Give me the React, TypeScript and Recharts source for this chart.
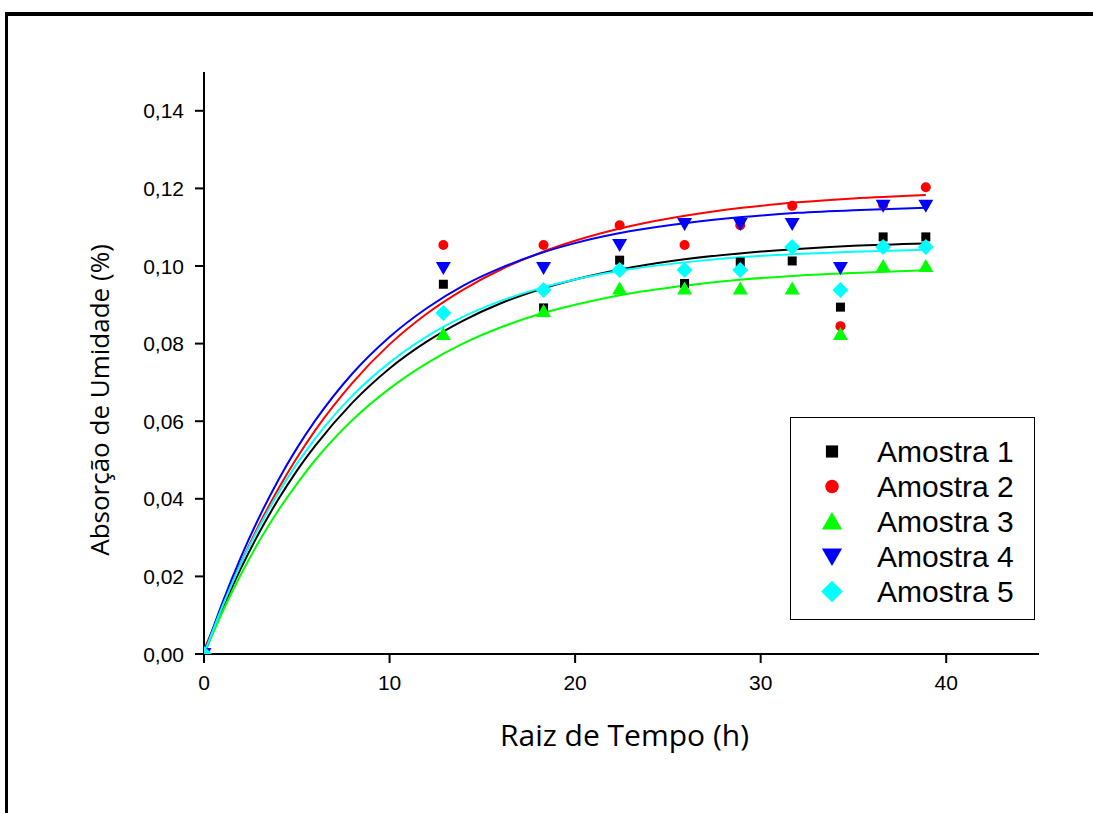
import React from 'react';
import { ComposedChart, Line, Scatter, XAxis, YAxis, Legend } from 'recharts';

// ---- data ----
const timeX = [0, 12.9, 18.3, 22.4, 25.9, 28.9, 31.7, 34.3, 36.6, 38.9];
const amostra1 = [0, 0.0953, 0.0892, 0.1015, 0.0955, 0.101, 0.1013, 0.0894, 0.1075, 0.1075];
const amostra2 = [0, 0.1054, 0.1054, 0.1105, 0.1054, 0.1105, 0.1155, 0.0845, 0.1157, 0.1203];
const amostra3 = [0, 0.0825, 0.0884, 0.0942, 0.0942, 0.0942, 0.0942, 0.0825, 0.1, 0.1];
const amostra4 = [0, 0.0995, 0.0995, 0.1054, 0.1108, 0.1108, 0.1108, 0.0995, 0.1155, 0.1155];
const amostra5 = [0, 0.0879, 0.0938, 0.099, 0.099, 0.099, 0.1049, 0.0938, 0.1049, 0.1049];

// fitted curves
const fitX = [0, 1, 2, 3, 4, 5, 6, 8, 10, 12, 14, 16, 18, 20, 23, 26, 29, 32, 35, 38.9];
const fit1 = [0, 0.0117, 0.0222, 0.0315, 0.0398, 0.0472, 0.0537, 0.0648, 0.0736, 0.0805, 0.086, 0.0904, 0.0938, 0.0965, 0.0996, 0.1018, 0.1033, 0.1044, 0.1052, 0.1058];
const fit2 = [0.001, 0.0124, 0.0236, 0.0336, 0.0425, 0.0505, 0.0577, 0.0699, 0.0798, 0.0877, 0.094, 0.0991, 0.1032, 0.1065, 0.1103, 0.113, 0.115, 0.1164, 0.1174, 0.1183];
const fit3 = [0, 0.0109, 0.0206, 0.0293, 0.037, 0.0438, 0.05, 0.0603, 0.0684, 0.0749, 0.0801, 0.0842, 0.0875, 0.09, 0.093, 0.095, 0.0965, 0.0975, 0.0982, 0.0989];
const fit4 = [0, 0.0133, 0.0251, 0.0355, 0.0448, 0.053, 0.0602, 0.0723, 0.0817, 0.0891, 0.095, 0.0995, 0.1031, 0.1059, 0.109, 0.1111, 0.1126, 0.1137, 0.1144, 0.115];
const fit5 = [0, 0.0124, 0.0234, 0.033, 0.0415, 0.049, 0.0556, 0.0666, 0.0751, 0.0818, 0.087, 0.091, 0.0941, 0.0965, 0.0992, 0.101, 0.1023, 0.1031, 0.1037, 0.1042];

const xMajorTicks = [0, 10, 20, 30, 40];
const xMinorTicks = [5, 15, 25, 35, 45];
const yMajorTicks = [0, 0.02, 0.04, 0.06, 0.08, 0.1, 0.12, 0.14];
const yMinorTicks = [0.01, 0.03, 0.05, 0.07, 0.09, 0.11, 0.13, 0.15];

const seriesNames = ['Amostra 1', 'Amostra 2', 'Amostra 3', 'Amostra 4', 'Amostra 5'];
const seriesColors = ['#000000', '#ff0000', '#00ff00', '#0000ff', '#00ffff'];
const seriesShapes = ['square', 'circle', 'triangleUp', 'triangleDown', 'diamond'];
const seriesValues = [amostra1, amostra2, amostra3, amostra4, amostra5];
const fitValues = [fit1, fit2, fit3, fit4, fit5];

const fitTable = fitX.map((x, i) => {
  const row: any = { x };
  fitValues.forEach((f, k) => { row['fit' + (k + 1)] = f[i]; });
  return row;
});

const scatterData = seriesValues.map((vals) => timeX.map((x, i) => ({ x, y: vals[i] })));

function markerEl(kind: string, cx: number, cy: number, color: string, s: number) {
  switch (kind) {
    case 'square':
      return <rect x={cx - 4.5 * s} y={cy - 4.5 * s} width={9 * s} height={9 * s} fill={color} />;
    case 'circle':
      return <circle cx={cx} cy={cy} r={5 * s} fill={color} />;
    case 'triangleUp':
      return <polygon points={`${cx},${cy - 7 * s} ${cx + 7.5 * s},${cy + 6 * s} ${cx - 7.5 * s},${cy + 6 * s}`} fill={color} />;
    case 'triangleDown':
      return <polygon points={`${cx},${cy + 7 * s} ${cx + 7.5 * s},${cy - 6 * s} ${cx - 7.5 * s},${cy - 6 * s}`} fill={color} />;
    default:
      return <polygon points={`${cx},${cy - 8 * s} ${cx + 8 * s},${cy} ${cx},${cy + 8 * s} ${cx - 8 * s},${cy}`} fill={color} />;
  }
}

const fmtY = (v: number) => v.toFixed(2).replace('.', ',');

const tickFamily = 'Liberation Sans, Arial, sans-serif';
const tickSizePx = 21;
const titleFont = 'Open Sans, DejaVu Sans, sans-serif';

const XTick = (p: any) => (
  <text x={p.x} y={p.y} dy="0.72em" textAnchor="middle" fontFamily={tickFamily} fontSize={tickSizePx} fill="#000">
    {p.payload.value}
  </text>
);

const YTick = (p: any) => (
  <text x={p.x} y={p.y} dy="0.36em" textAnchor="end" fontFamily={tickFamily} fontSize={tickSizePx} fill="#000">
    {fmtY(p.payload.value)}
  </text>
);

function LegendBox() {
  return (
    <div
      style={{
        width: 245,
        height: 203,
        border: '1.5px solid #000',
        background: '#fff',
        boxSizing: 'border-box',
        paddingTop: 16,
      }}
    >
      {seriesNames.map((n, i) => (
        <div key={n} style={{ display: 'flex', alignItems: 'center', height: 35 }}>
          <svg width={86} height={35} style={{ display: 'block' }}>
            {markerEl(seriesShapes[i], 41, 17.5, seriesColors[i], 1.35)}
          </svg>
          <span style={{ fontFamily: 'Liberation Sans, Arial, sans-serif', fontSize: 30, color: '#000', lineHeight: '35px' }}>{n}</span>
        </div>
      ))}
    </div>
  );
}

export default function App() {
  return (
    <div style={{ position: 'absolute', left: 0, top: 0, width: 1093, height: 813, background: '#fff', overflow: 'hidden' }}>
      <div
        style={{
          position: 'absolute',
          left: 5,
          top: 12,
          width: 1100,
          height: 820,
          borderTop: '4px solid #000',
          borderLeft: '3px solid #000',
        }}
      />
      <div style={{ position: 'absolute', left: 0, top: 0 }}>
        <ComposedChart width={1093} height={813} data={fitTable} margin={{ top: 72, right: 54, bottom: 99, left: 104 }}>
          <XAxis
            xAxisId="minor"
            type="number"
            dataKey="x"
            domain={[0, 45]}
            ticks={xMinorTicks}
            tick={false}
            axisLine={false}
            tickSize={5}
            tickLine={{ stroke: '#000', strokeWidth: 2 }}
            height={0}
            allowDataOverflow
          />
          <XAxis
            type="number"
            dataKey="x"
            domain={[0, 45]}
            ticks={xMajorTicks}
            tick={XTick}
            tickSize={9}
            tickMargin={12}
            axisLine={{ stroke: '#000', strokeWidth: 2 }}
            tickLine={{ stroke: '#000', strokeWidth: 2 }}
            height={60}
            allowDataOverflow
            label={{
              content: (p: any) => (
                <text
                  x={p.viewBox.x + p.viewBox.width / 2 + 3}
                  y={p.viewBox.y + 80}
                  textAnchor="middle"
                  dominantBaseline="central"
                  fontFamily={titleFont}
                  fontSize={30}
                  fill="#000"
                >
                  Raiz de Tempo (h)
                </text>
              ),
            }}
          />
          <YAxis
            yAxisId="minor"
            type="number"
            domain={[0, 0.15]}
            ticks={yMinorTicks}
            tick={false}
            axisLine={false}
            tickSize={5}
            tickLine={{ stroke: '#000', strokeWidth: 2 }}
            width={0}
            allowDataOverflow
          />
          <YAxis
            type="number"
            domain={[0, 0.15]}
            ticks={yMajorTicks}
            tick={YTick}
            tickSize={9}
            tickMargin={11}
            axisLine={{ stroke: '#000', strokeWidth: 2 }}
            tickLine={{ stroke: '#000', strokeWidth: 2 }}
            width={100}
            allowDataOverflow
            label={{
              content: (p: any) => {
                const cx = p.viewBox.x - 5;
                const cy = p.viewBox.y + p.viewBox.height / 2 + 37;
                return (
                  <text
                    x={cx}
                    y={cy}
                    textAnchor="middle"
                    dominantBaseline="central"
                    transform={`rotate(-90, ${cx}, ${cy})`}
                    fontFamily={titleFont}
                    fontSize={26}
                    fill="#000"
                  >
                    Absorção de Umidade (%)
                  </text>
                );
              },
            }}
          />
          {fitValues.map((_, k) => (
            <Line
              key={'fit' + k}
              dataKey={'fit' + (k + 1)}
              type="monotone"
              stroke={seriesColors[k]}
              strokeWidth={2}
              dot={false}
              activeDot={false}
              isAnimationActive={false}
              legendType="none"
            />
          ))}
          {scatterData.map((d, k) => (
            <Scatter
              key={'sc' + k}
              name={seriesNames[k]}
              data={d}
              dataKey="y"
              fill={seriesColors[k]}
              isAnimationActive={false}
              shape={(p: any) => markerEl(seriesShapes[k], p.cx, p.cy, seriesColors[k], 1)}
            />
          ))}
          <Legend
            layout="vertical"
            align="center"
            verticalAlign="middle"
            content={() => <LegendBox />}
            wrapperStyle={{ position: 'absolute', left: 790, top: 417, width: 245, height: 203 }}
          />
        </ComposedChart>
      </div>
    </div>
  );
}
